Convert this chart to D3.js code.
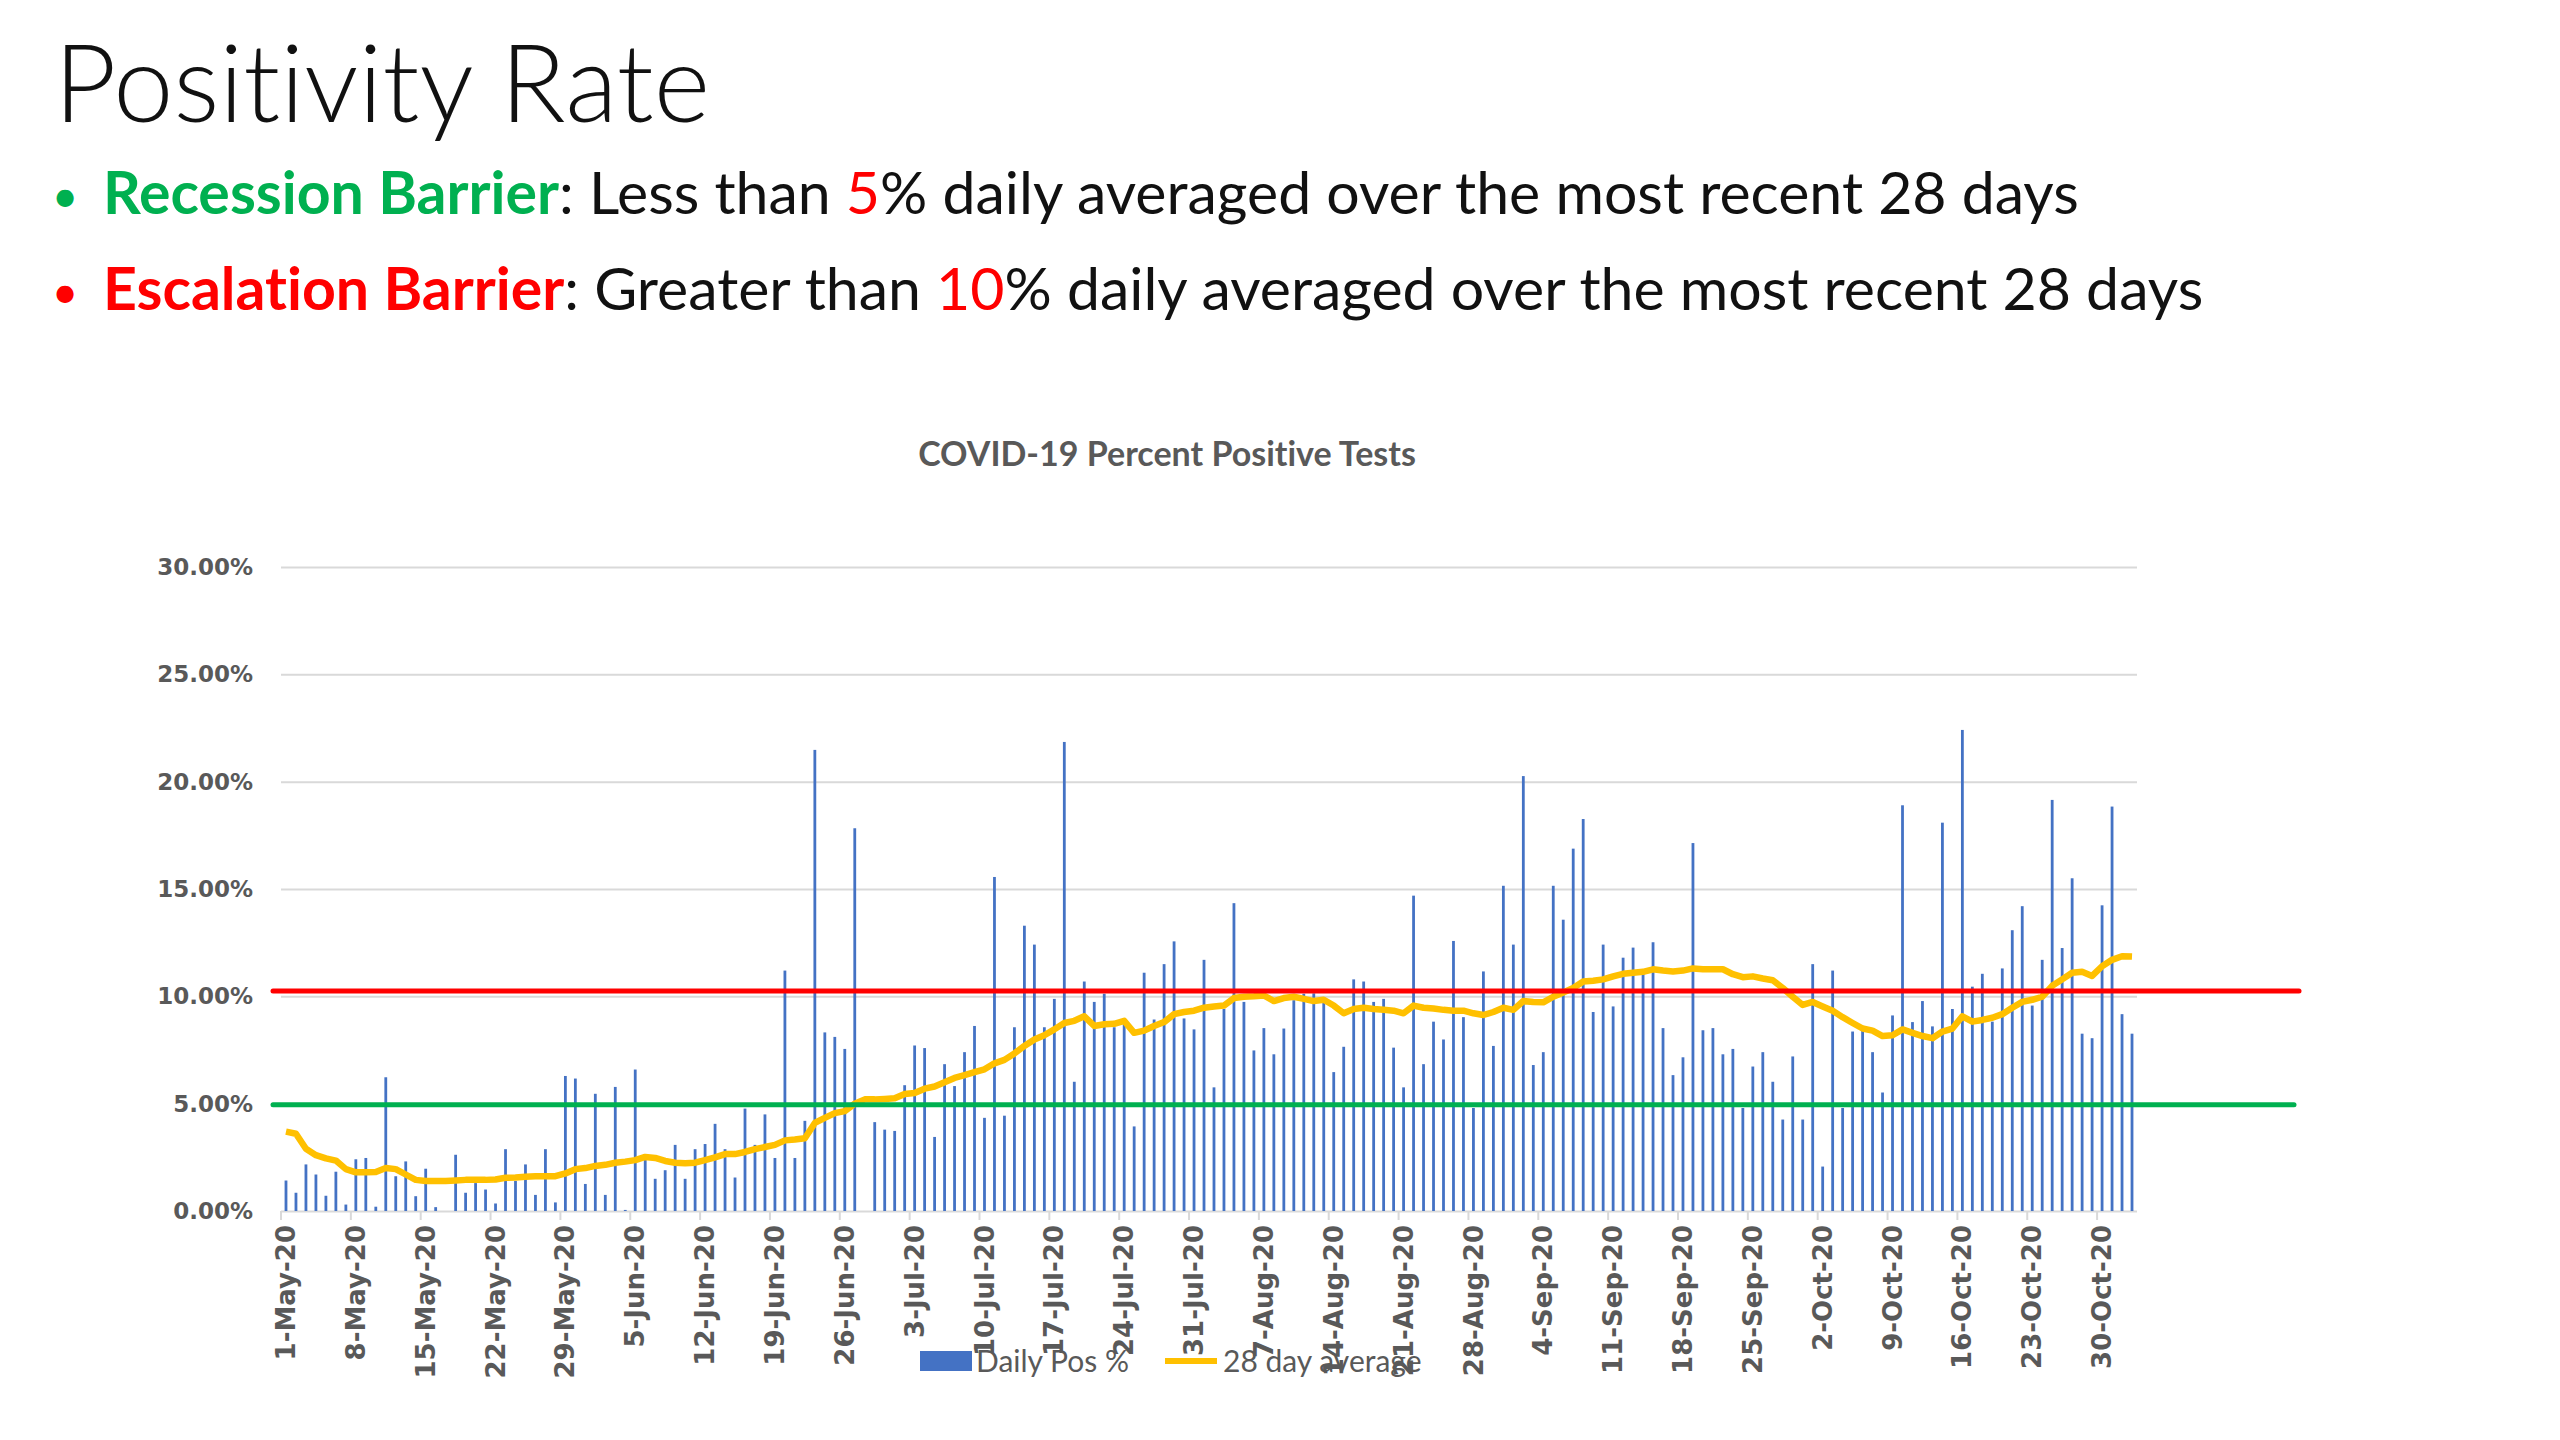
<!DOCTYPE html>
<html>
<head>
<meta charset="utf-8">
<script src="https://cdn.jsdelivr.net/npm/d3@7"></script>
<style>
  body { margin: 0; background: #fff; }
  text { font-variant-ligatures: none; }
</style>
</head>
<body>
<script>
// categories: one per day, 1-May-20 .. 2-Nov-20
const fmtDay = d3.timeFormat("%-d-%b-%y");
const days = d3.timeDay.range(new Date(2020, 4, 1), new Date(2020, 10, 3)).map(fmtDay);

// daily positivity (%)
const dailyPos = [
  1.42, 0.85, 2.17, 1.70, 0.71, 1.83, 0.30, 2.41, 2.47, 0.20, 6.23, 1.62, 2.31, 0.69, 1.97, 0.18, 0, 2.62, 0.85, 1.30, 1.00, 0.35, 2.88,
  1.40, 2.17, 0.75, 2.88, 0.40, 6.29, 6.17, 1.26, 5.46, 0.75, 5.78, 0.05, 6.59, 2.64, 1.50, 1.90, 3.08, 1.50, 2.88, 3.12, 4.06, 2.88, 1.56, 4.77,
  3.08, 4.50, 2.47, 11.20, 2.47, 4.20, 21.48, 8.32, 8.11, 7.55, 17.83, 0, 4.14, 3.79, 3.73, 5.86, 7.71, 7.59, 3.45, 6.84, 5.82, 7.40, 8.62, 4.34,
  15.56, 4.44, 8.56, 13.29, 12.41, 8.56, 9.88, 21.85, 6.02, 10.69, 9.74, 10.12, 8.56, 8.92, 3.94, 11.10, 8.92, 11.50, 12.56, 8.97, 8.46, 11.70, 5.76,
  9.41, 14.34, 9.74, 7.48, 8.52, 7.30, 8.50, 9.82, 10.12, 10.14, 9.72, 6.47, 7.65, 10.79, 10.69, 9.74, 9.88, 7.61, 5.76, 14.69, 6.84, 8.82, 7.99, 12.58,
  9.03, 4.80, 11.16, 7.69, 15.15, 12.41, 20.26, 6.80, 7.40, 15.15, 13.57, 16.88, 18.26, 9.27, 12.41, 9.53, 11.80, 12.27, 11.26, 12.52, 8.52, 6.33, 7.16, 17.14,
  8.42, 8.52, 7.30, 7.55, 4.80, 6.73, 7.40, 6.02, 4.26, 7.20, 4.26, 11.50, 2.07, 11.20, 4.80, 8.36, 8.56, 7.40, 5.52, 9.11, 18.90, 8.80, 9.78,
  8.60, 18.09, 9.41, 22.41, 10.45, 11.05, 8.82, 11.30, 13.08, 14.20, 9.57, 11.70, 19.15, 12.25, 15.50, 8.26, 8.05, 14.24, 18.84, 9.17, 8.26
];

// 28 day average (%)
const avg28 = [
  3.70, 3.60, 2.90, 2.60, 2.45, 2.35, 1.95, 1.80, 1.80, 1.82, 2.00, 1.95, 1.70, 1.45, 1.40, 1.40, 1.40, 1.42, 1.45, 1.45, 1.45, 1.47, 1.55,
  1.56, 1.60, 1.62, 1.62, 1.62, 1.75, 1.95, 2.00, 2.10, 2.15, 2.25, 2.30, 2.37, 2.52, 2.47, 2.33, 2.25, 2.23, 2.25, 2.37, 2.50, 2.65, 2.65, 2.75,
  2.88, 2.98, 3.08, 3.29, 3.33, 3.39, 4.10, 4.34, 4.56, 4.65, 5.00, 5.20, 5.20, 5.22, 5.25, 5.45, 5.50, 5.70, 5.80, 6.00, 6.20, 6.33, 6.47, 6.60,
  6.88, 7.04, 7.34, 7.69, 7.99, 8.19, 8.46, 8.76, 8.86, 9.07, 8.62, 8.70, 8.72, 8.86, 8.30, 8.40, 8.62, 8.80, 9.17, 9.27, 9.33, 9.47, 9.53,
  9.57, 9.92, 9.98, 10.00, 10.04, 9.78, 9.92, 9.98, 9.88, 9.78, 9.84, 9.57, 9.21, 9.41, 9.47, 9.41, 9.37, 9.33, 9.21, 9.57, 9.47, 9.43, 9.37, 9.33,
  9.33, 9.21, 9.13, 9.27, 9.47, 9.37, 9.78, 9.74, 9.72, 9.98, 10.18, 10.39, 10.69, 10.73, 10.79, 10.93, 11.05, 11.10, 11.14, 11.26, 11.20, 11.16, 11.20, 11.30,
  11.26, 11.26, 11.26, 11.03, 10.89, 10.93, 10.83, 10.75, 10.39, 9.98, 9.60, 9.74, 9.53, 9.33, 9.03, 8.76, 8.50, 8.40, 8.15, 8.19, 8.46, 8.30, 8.15,
  8.05, 8.36, 8.50, 9.07, 8.82, 8.90, 9.00, 9.17, 9.47, 9.74, 9.84, 9.98, 10.49, 10.79, 11.10, 11.14, 10.95, 11.40, 11.70, 11.87, 11.85
];

const tickLabels = ["1-May-20", "8-May-20", "15-May-20", "22-May-20", "29-May-20", "5-Jun-20", "12-Jun-20",
  "19-Jun-20", "26-Jun-20", "3-Jul-20", "10-Jul-20", "17-Jul-20", "24-Jul-20", "31-Jul-20", "7-Aug-20",
  "14-Aug-20", "21-Aug-20", "28-Aug-20", "4-Sep-20", "11-Sep-20", "18-Sep-20", "25-Sep-20", "2-Oct-20",
  "9-Oct-20", "16-Oct-20", "23-Oct-20", "30-Oct-20"];
const yTicks = [0, 5, 10, 15, 20, 25, 30];

// barrier lines drawn on the slide
const recessionLevel = 4.95;
const escalationLevel = 10.25;

function main() {
  const svg = d3.select("body").append("svg")
    .attr("width", 2560)
    .attr("height", 1440);

  svg.append("rect").attr("width", 2560).attr("height", 1440).attr("fill", "#fff");

  // slide heading
  svg.append("text")
    .attr("x", 54).attr("y", 122)
    .style("font-family", "Lato").style("font-weight", 300).style("font-size", "108px")
    .attr("fill", "#111")
    .text("Positivity Rate");

  const bullets = [
    {y: 214, color: "#00B050", label: "Recession Barrier", pre: ": Less than ", num: "5"},
    {y: 310, color: "#FF0000", label: "Escalation Barrier", pre: ": Greater than ", num: "10"}
  ];
  bullets.forEach(b => {
    svg.append("text")
      .attr("x", 65).attr("y", b.y - 2)
      .attr("text-anchor", "middle")
      .style("font-family", "Lato").style("font-size", "46px")
      .attr("fill", b.color)
      .text("\u2022");
    const t = svg.append("text")
      .attr("x", 103).attr("y", b.y)
      .style("font-family", "Lato").style("font-size", "59px")
      .attr("fill", "#111");
    t.append("tspan").attr("fill", b.color).style("font-weight", "bold").text(b.label);
    t.append("tspan").text(b.pre);
    t.append("tspan").attr("fill", "#FF0000").text(b.num);
    t.append("tspan").text("% daily averaged over the most recent 28 days");
  });

  // chart
  const margin = {top: 567, left: 281};
  const width = 1856, height = 644;
  const g = svg.append("g").attr("transform", `translate(${margin.left},${margin.top})`);

  svg.append("text")
    .attr("x", 1167).attr("y", 466)
    .attr("text-anchor", "middle")
    .style("font-family", "Lato").style("font-weight", "bold").style("font-size", "34px")
    .attr("fill", "#595959")
    .text("COVID-19 Percent Positive Tests");

  const x = d3.scaleBand().domain(days).range([0, width]).padding(0);
  const y = d3.scaleLinear().domain([0, 30]).range([height, 0]);

  // gridlines
  g.append("g")
    .call(d3.axisLeft(y).tickValues(yTicks).tickSize(-width).tickFormat(""))
    .call(a => a.select(".domain").remove())
    .selectAll("line").attr("stroke", "#d9d9d9").attr("stroke-width", 2);

  // y labels
  g.append("g")
    .call(d3.axisLeft(y).tickValues(yTicks).tickSize(0).tickPadding(28).tickFormat(d => d.toFixed(2) + "%"))
    .call(a => a.select(".domain").remove())
    .selectAll("text")
    .attr("font-family", "DejaVu Sans").attr("font-weight", "bold").attr("font-size", 23).attr("fill", "#595959");

  // small ticks at week boundaries
  g.append("g").selectAll("line").data(tickLabels).join("line")
    .attr("x1", d => x(d)).attr("x2", d => x(d))
    .attr("y1", height).attr("y2", height + 9)
    .attr("stroke", "#d9d9d9").attr("stroke-width", 2);

  // bars
  const barW = x.bandwidth() * 0.28;
  g.append("g").selectAll("rect").data(dailyPos).join("rect")
    .attr("x", (d, i) => x(days[i]) + (x.bandwidth() - barW) / 2)
    .attr("y", d => y(d))
    .attr("width", barW)
    .attr("height", d => height - y(d))
    .attr("fill", "#4472C4");

  // 28 day average
  const line = d3.line()
    .x((d, i) => x(days[i]) + x.bandwidth() / 2)
    .y(d => y(d));
  g.append("path")
    .datum(avg28)
    .attr("d", line)
    .attr("fill", "none")
    .attr("stroke", "#FFC000")
    .attr("stroke-width", 6.5)
    .attr("stroke-linejoin", "round");

  // x labels
  const xAxis = g.append("g")
    .attr("transform", `translate(0,${height})`)
    .call(d3.axisBottom(x).tickValues(tickLabels).tickSize(0));
  xAxis.select(".domain").remove();
  xAxis.selectAll("text")
    .attr("transform", "rotate(-90)")
    .attr("x", -14).attr("y", 0).attr("dy", "0.35em")
    .attr("text-anchor", "end")
    .attr("font-family", "DejaVu Sans").attr("font-weight", "bold").attr("font-size", 26).attr("fill", "#595959");

  // legend
  const lg = svg.append("g").attr("transform", "translate(920,1361)");
  lg.append("rect").attr("x", 0).attr("y", -10).attr("width", 52).attr("height", 20).attr("fill", "#4472C4");
  lg.append("text").attr("x", 56).attr("y", 0).attr("dy", "0.35em")
    .style("font-family", "Lato").style("font-size", "30px").attr("fill", "#595959").text("Daily Pos %");
  lg.append("line").attr("x1", 245).attr("x2", 297).attr("y1", 0).attr("y2", 0)
    .attr("stroke", "#FFC000").attr("stroke-width", 6);
  lg.append("text").attr("x", 303).attr("y", 0).attr("dy", "0.35em")
    .style("font-family", "Lato").style("font-size", "30px").attr("fill", "#595959").text("28 day average");

  // barrier lines over the chart
  const barriers = [
    {level: escalationLevel, color: "#FF0000", ext: 162},
    {level: recessionLevel, color: "#00B050", ext: 157}
  ];
  g.append("g").selectAll("line").data(barriers).join("line")
    .attr("x1", -8).attr("x2", d => width + d.ext)
    .attr("y1", d => y(d.level)).attr("y2", d => y(d.level))
    .attr("stroke", d => d.color)
    .attr("stroke-width", 5)
    .attr("stroke-linecap", "round");
}

main();
</script>
</body>
</html>
